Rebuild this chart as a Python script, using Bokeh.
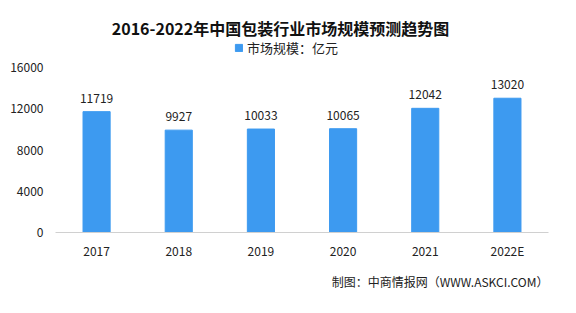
from bokeh.plotting import figure
from bokeh.models import ColumnDataSource, FixedTicker, Title, Legend, LegendItem, Label
from bokeh.core.properties import value
from bokeh.embed import file_html
from bokeh.resources import INLINE

years = ["2017", "2018", "2019", "2020", "2021", "2022E"]
market = [11719, 9927, 10033, 10065, 12042, 13020]
y_ticks = [0, 4000, 8000, 12000, 16000]

title_text = "2016-2022年中国包装行业市场规模预测趋势图"
legend_text = "市场规模：亿元"
source_text = "制图：中商情报网（WWW.ASKCI.COM）"

BAR = "#3d9af0"
FONT = "Noto Sans CJK SC"

# frame: canvas x 55..548, y 0..232 ; 16000 sits at canvas y=67
FRAME_TOP_VALUE = 16000 * 232 / 165

src = ColumnDataSource(dict(x=years, y=market, lab=[str(v) for v in market]))

p = figure(x_range=years, y_range=(0, FRAME_TOP_VALUE), width=576, height=313,
           output_backend="svg", toolbar_location=None,
           min_border_left=55, min_border_right=28, min_border_top=0, min_border_bottom=81)
p.outline_line_color = None
p.grid.grid_line_color = None
p.background_fill_color = "white"
p.border_fill_color = "white"

r = p.vbar(x="x", top="y", width=0.33, source=src, color=BAR)
p.text(x="x", y="y", text="lab", source=src, text_align="center", text_baseline="bottom",
       y_offset=-9, text_font=value(FONT), text_font_size="12px", text_color="#222222")

p.yaxis.ticker = FixedTicker(ticks=y_ticks)
p.yaxis.axis_line_color = None
p.yaxis.major_tick_line_color = None
p.yaxis.minor_tick_line_color = None
p.yaxis.major_label_text_font = FONT
p.yaxis.major_label_text_font_size = "12px"
p.yaxis.major_label_text_color = "#222222"
p.yaxis.major_label_standoff = 6

p.xaxis.axis_line_color = "#d0d0d0"
p.xaxis.major_tick_line_color = None
p.xaxis.minor_tick_line_color = None
p.xaxis.major_label_text_font = FONT
p.xaxis.major_label_text_font_size = "12px"
p.xaxis.major_label_text_color = "#222222"
p.xaxis.major_label_standoff = 3

legend = Legend(items=[LegendItem(label=legend_text, renderers=[r])],
                orientation="horizontal", location=(179, 175),
                label_text_font=FONT, label_text_font_size="13px", label_text_color="#222222",
                glyph_width=9, glyph_height=9, label_standoff=4, label_height=16,
                padding=0, margin=0, border_line_color=None, background_fill_alpha=0)
p.add_layout(legend)

p.add_layout(Label(x=225, y=205, x_units="screen", y_units="screen", text=title_text,
                   text_align="center", text_baseline="middle", text_font=FONT,
                   text_font_size="16px", text_font_style="bold", text_color="#111111"))

p.add_layout(Title(text=source_text, align="right", text_font=FONT, text_font_size="12px",
                   text_font_style="normal", text_color="#222222", offset=0, standoff=18),
             "below")

open("out.html", "w").write(file_html(p, INLINE))
